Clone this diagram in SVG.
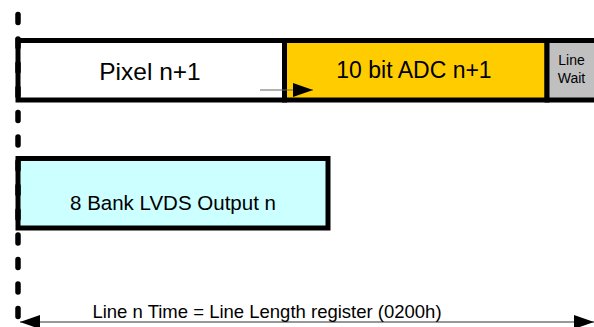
<svg xmlns="http://www.w3.org/2000/svg" width="594" height="327" viewBox="0 0 594 327">
<style>
.box{stroke:#000;stroke-width:5}
.t{font-family:"Liberation Sans",Arial,sans-serif;fill:#000;text-anchor:middle}
</style>
<defs>
<marker id="ahb" viewBox="0 0 10 10" refX="10" refY="5" markerWidth="20" markerHeight="14" markerUnits="userSpaceOnUse" orient="auto-start-reverse" preserveAspectRatio="none">
<path d="M0,0 L10,5 L0,10 z" fill="#000"/>
</marker>
</defs>
<rect width="594" height="327" fill="#fff"/>
<g id="pixel">
<rect class="box" x="18" y="40.5" width="266.5" height="59.5" fill="#fff"/>
<text class="t" x="150" y="80" font-size="24.5">Pixel n+1</text>
</g>
<g id="adc">
<rect class="box" x="284.5" y="40.5" width="262.5" height="59.5" fill="#FFCC00"/>
<text class="t" x="414" y="78" font-size="23">10 bit ADC n+1</text>
</g>
<g id="linewait">
<rect class="box" x="547" y="40.5" width="52" height="59.5" fill="#C0C0C0"/>
<text class="t" x="571.5" y="65" font-size="14">Line</text>
<text class="t" x="571.5" y="83" font-size="14">Wait</text>
</g>
<g id="lvds">
<rect class="box" x="18" y="158.5" width="310" height="69.5" fill="#CCFFFF"/>
<text class="t" x="173" y="210" font-size="20.5">8 Bank LVDS Output n</text>
</g>
<g id="connectors">
<line x1="18" y1="14.5" x2="18" y2="327" stroke="#000" stroke-width="5.5" stroke-linecap="round" stroke-dasharray="8 16.5"/>
<line x1="260" y1="90" x2="313" y2="90" stroke="#666" stroke-width="1.2" marker-end="url(#ahb)"/>
<line x1="20" y1="322" x2="594" y2="322" stroke="#333" stroke-width="1.2" marker-start="url(#ahb)" marker-end="url(#ahb)"/>
</g>
<text class="t" x="267" y="318" font-size="18.5">Line n Time = Line Length register (0200h)</text>
</svg>
